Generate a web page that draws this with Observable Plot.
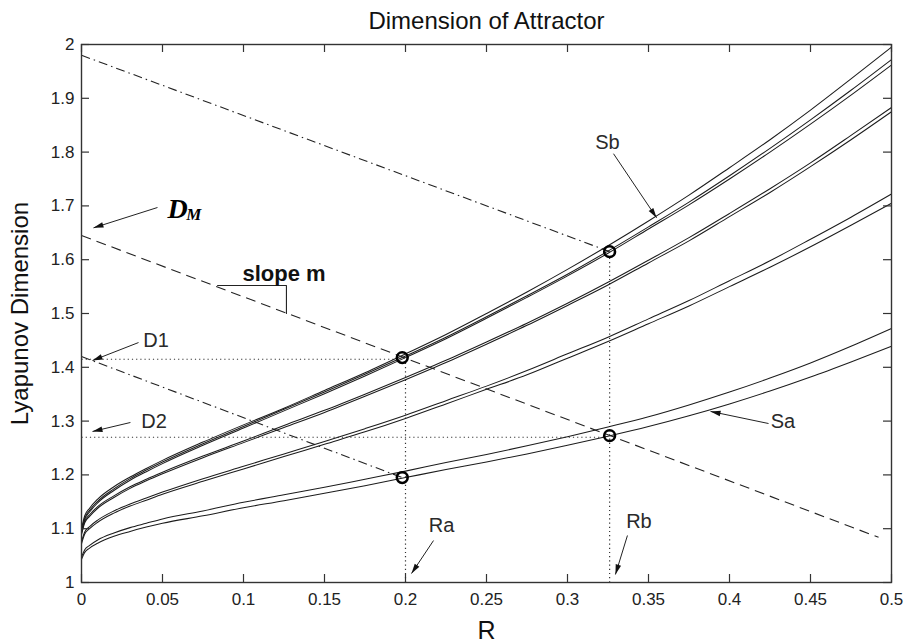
<!DOCTYPE html>
<html>
<head>
<meta charset="utf-8">
<script src="https://cdn.jsdelivr.net/npm/d3@7"></script>
<script src="https://cdn.jsdelivr.net/npm/@observablehq/plot@0.6"></script>
<style>
  html, body { margin: 0; padding: 0; background: #fff; }
  #chart svg { display: block; }
</style>
</head>
<body>
<div id="chart"></div>
<script>
// ---------- data ----------
const R = [0, 0.002, 0.005, 0.01, 0.02, 0.03, 0.04, 0.05, 0.075, 0.1, 0.125, 0.15, 0.175, 0.2,
           0.225, 0.25, 0.275, 0.3, 0.325, 0.35, 0.375, 0.4, 0.425, 0.45, 0.475, 0.5];

// upper group (Sb)
const dimSb1 = [1.100, 1.124, 1.138, 1.155, 1.178, 1.196, 1.212, 1.227, 1.261, 1.293, 1.324, 1.357, 1.390, 1.425,
                1.461, 1.500, 1.540, 1.582, 1.626, 1.672, 1.720, 1.771, 1.823, 1.878, 1.936, 1.995];
const dimSb2 = [1.095, 1.120, 1.134, 1.151, 1.174, 1.193, 1.209, 1.224, 1.258, 1.290, 1.322, 1.354, 1.387, 1.421,
                1.456, 1.494, 1.533, 1.573, 1.616, 1.661, 1.707, 1.756, 1.807, 1.860, 1.915, 1.972];
const dimSb3 = [1.092, 1.117, 1.131, 1.148, 1.171, 1.190, 1.206, 1.221, 1.255, 1.287, 1.319, 1.351, 1.384, 1.418,
                1.453, 1.491, 1.530, 1.570, 1.612, 1.657, 1.702, 1.750, 1.800, 1.852, 1.906, 1.962];
// second group
const dimB1 = [1.092, 1.114, 1.126, 1.141, 1.161, 1.178, 1.192, 1.205, 1.235, 1.263, 1.292, 1.320, 1.350, 1.381,
               1.413, 1.447, 1.482, 1.519, 1.558, 1.599, 1.641, 1.686, 1.732, 1.780, 1.831, 1.883];
const dimB2 = [1.089, 1.111, 1.123, 1.138, 1.158, 1.175, 1.189, 1.202, 1.232, 1.260, 1.288, 1.316, 1.346, 1.377,
               1.409, 1.443, 1.478, 1.515, 1.553, 1.594, 1.635, 1.680, 1.725, 1.773, 1.823, 1.875];
// third group
const dimC1 = [1.076, 1.094, 1.104, 1.116, 1.133, 1.146, 1.157, 1.168, 1.193, 1.216, 1.239, 1.262, 1.286, 1.311,
               1.338, 1.365, 1.394, 1.425, 1.456, 1.490, 1.524, 1.561, 1.598, 1.638, 1.679, 1.722];
const dimC2 = [1.072, 1.090, 1.100, 1.112, 1.129, 1.142, 1.153, 1.164, 1.188, 1.211, 1.234, 1.257, 1.280, 1.305,
               1.332, 1.359, 1.386, 1.417, 1.448, 1.481, 1.514, 1.550, 1.586, 1.624, 1.664, 1.705];
// lower group (Sa)
const dimSa1 = [1.047, 1.061, 1.069, 1.079, 1.092, 1.102, 1.110, 1.118, 1.133, 1.149, 1.163, 1.177, 1.192, 1.207,
                1.223, 1.238, 1.254, 1.271, 1.289, 1.308, 1.330, 1.354, 1.380, 1.408, 1.439, 1.472];
const dimSa2 = [1.043, 1.056, 1.064, 1.073, 1.086, 1.095, 1.103, 1.110, 1.124, 1.139, 1.152, 1.166, 1.180, 1.195,
                1.210, 1.224, 1.239, 1.255, 1.272, 1.290, 1.310, 1.332, 1.356, 1.382, 1.410, 1.439];

// marked operating points
const pointR = [0.198, 0.198, 0.326, 0.326];
const pointD = [1.418, 1.195, 1.615, 1.273];

// construction lines
const dashDotR1 = [0, 0],       dashDotD1 = [1.98, 1.42];
const dashDotR2 = [0.326, 0.198], dashDotD2 = [1.615, 1.195];
const dashedR1 = [0], dashedD1 = [1.645];
const dashedR2 = [0.492], dashedD2 = [1.084];
const dottedR1 = [0, 0, 0.2, 0.326],     dottedD1 = [1.415, 1.27, 1.0, 1.0];
const dottedR2 = [0.195, 0.322, 0.2, 0.326], dottedD2 = [1.415, 1.27, 1.41, 1.605];
const slopeR = [0.084, 0.1265, 0.1265];
const slopeD = [1.552, 1.552, 1.50];

// annotation labels
const labelText = ["Sb", "Sa", "D1", "D2", "Ra", "Rb"];
const labelR = [0.3247, 0.433, 0.046, 0.0448, 0.2222, 0.3441];
const labelD = [1.817, 1.2993, 1.4489, 1.2993, 1.105, 1.1125];
const slopeLabel = "slope m", slopeLabelR = 0.125, slopeLabelD = 1.5743;
const dmMain = "D", dmSub = "M";
const dmR = [0.0593, 0.0694], dmD = [1.695, 1.683];

// annotation arrows (tail -> tip)
const arrowFromR = [0.0469, 0.0352, 0.0302, 0.2173, 0.337, 0.4241, 0.3284];
const arrowFromD = [1.697, 1.446, 1.2974, 1.078, 1.0874, 1.2955, 1.797];
const arrowToR   = [0.0074, 0.0068, 0.0068, 0.2037, 0.3296, 0.3883, 0.355];
const arrowToD   = [1.6592, 1.4126, 1.2807, 1.0167, 1.0149, 1.318, 1.678];

const xTicks = [0, 0.05, 0.1, 0.15, 0.2, 0.25, 0.3, 0.35, 0.4, 0.45, 0.5];
const yTicks = [1, 1.1, 1.2, 1.3, 1.4, 1.5, 1.6, 1.7, 1.8, 1.9, 2];

const titleText = "Dimension of Attractor";
const xLabel = "R";
const yLabel = "Lyapunov Dimension";

// ---------- build ----------
const W = 904, H = 643;
const M = {top: 44, right: 13, bottom: 61, left: 81};
const xDomain = [0, 0.5], yDomain = [1, 2];
const kx = (W - M.left - M.right) / (xDomain[1] - xDomain[0]);
const ky = (H - M.top - M.bottom) / (yDomain[1] - yDomain[0]);
const plotW = W - M.left - M.right, plotH = H - M.top - M.bottom;

const series = [
  ["Sb1", dimSb1], ["Sb2", dimSb2], ["Sb3", dimSb3],
  ["B1", dimB1], ["B2", dimB2], ["C1", dimC1], ["C2", dimC2],
  ["Sa1", dimSa1], ["Sa2", dimSa2]
];
const curveRows = series.flatMap(([id, vals]) => R.map((r, i) => ({R: r, D: vals[i], id})));
const points = pointR.map((r, i) => ({R: r, D: pointD[i]}));
const seg = (r1, d1, r2, d2) => r1.map((r, i) => ({x1: r, y1: d1[i], x2: r2[i], y2: d2[i]}));
const dashDot = seg(dashDotR1, dashDotD1, dashDotR2, dashDotD2);
const dashed = seg(dashedR1, dashedD1, dashedR2, dashedD2);
const dotted = seg(dottedR1, dottedD1, dottedR2, dottedD2);
const slopeRows = slopeR.map((r, i) => ({R: r, D: slopeD[i]}));
const labels = labelText.map((t, i) => ({t, R: labelR[i], D: labelD[i]}));
const arrows = arrowFromR.map((r, i) => {
  const dxp = (arrowToR[i] - r) * kx;
  const dyp = -(arrowToD[i] - arrowFromD[i]) * ky;
  return {x1: r, y1: arrowFromD[i], x2: arrowToR[i], y2: arrowToD[i],
          angle: Math.atan2(dxp, -dyp) * 180 / Math.PI};
});

// narrow filled arrowhead, tip at origin, pointing up
const arrowHead = {
  draw(ctx) {
    ctx.moveTo(0, 0);
    ctx.lineTo(-2.8, 10);
    ctx.lineTo(2.8, 10);
    ctx.closePath();
  }
};

const fmt = d => String(+d.toFixed(2));
const ink = "#1c1c1c";
const sans = "'Liberation Sans', Arial, Helvetica, sans-serif";

const chart = Plot.plot({
  width: W, height: H,
  marginTop: M.top, marginRight: M.right, marginBottom: M.bottom, marginLeft: M.left,
  x: {domain: xDomain},
  y: {domain: yDomain},
  style: {fontFamily: sans, fontSize: "17px", color: "#222", background: "#fff"},
  marks: [
    // construction lines
    Plot.link(dotted, {x1: "x1", y1: "y1", x2: "x2", y2: "y2", stroke: "#333", strokeWidth: 1.2, strokeDasharray: "1.2,3"}),
    Plot.link(dashDot, {x1: "x1", y1: "y1", x2: "x2", y2: "y2", stroke: "#222", strokeWidth: 1.1, strokeDasharray: "9,4,1.5,4"}),
    Plot.link(dashed, {x1: "x1", y1: "y1", x2: "x2", y2: "y2", stroke: "#222", strokeWidth: 1.1, strokeDasharray: "10,6"}),
    Plot.line(slopeRows, {x: "R", y: "D", stroke: "#222", strokeWidth: 1.1}),
    // curves
    Plot.line(curveRows, {x: "R", y: "D", z: "id", stroke: ink, strokeWidth: 1.05, curve: "monotone-x"}),
    // operating points
    Plot.dot(points, {x: "R", y: "D", r: 5.4, stroke: "#000", strokeWidth: 2.6, fill: "none"}),
    // inner ticks on all four sides
    Plot.tickX(xTicks, {x: d => d, stroke: "#333", strokeWidth: 1.2, insetTop: plotH - 8}),
    Plot.tickX(xTicks, {x: d => d, stroke: "#333", strokeWidth: 1.2, insetBottom: plotH - 8}),
    Plot.tickY(yTicks, {y: d => d, stroke: "#333", strokeWidth: 1.2, insetRight: plotW - 8}),
    Plot.tickY(yTicks, {y: d => d, stroke: "#333", strokeWidth: 1.2, insetLeft: plotW - 8}),
    Plot.frame({stroke: "#333", strokeWidth: 1.4}),
    // tick labels
    Plot.axisX({ticks: xTicks, tickSize: 0, tickPadding: 10, tickFormat: fmt, label: null, fontSize: 17}),
    Plot.axisY({ticks: yTicks, tickSize: 0, tickPadding: 7, tickFormat: fmt, label: null, fontSize: 17}),
    // annotation arrows
    Plot.link(arrows, {x1: "x1", y1: "y1", x2: "x2", y2: "y2", stroke: "#222", strokeWidth: 1}),
    Plot.dot(arrows, {x: "x2", y: "y2", rotate: "angle", symbol: arrowHead, fill: "#111", stroke: "none"}),
    // annotation labels
    Plot.text(labels, {x: "R", y: "D", text: "t", fontSize: 20, fill: "#2a2a2a", lineAnchor: "middle"}),
    Plot.text([slopeLabel], {x: () => slopeLabelR, y: () => slopeLabelD, fontSize: 22, fontWeight: "bold", fill: "#111", lineAnchor: "middle"}),
    Plot.text([dmMain], {x: () => dmR[0], y: () => dmD[0], fontSize: 28, fontWeight: "bold", fontStyle: "italic",
      fontFamily: "'Liberation Serif', 'Times New Roman', serif", fill: "#000", lineAnchor: "middle"}),
    Plot.text([dmSub], {x: () => dmR[1], y: () => dmD[1], fontSize: 17, fontWeight: "bold", fontStyle: "italic",
      fontFamily: "'Liberation Serif', 'Times New Roman', serif", fill: "#000", lineAnchor: "middle"}),
    // title and axis labels
    Plot.text([titleText], {frameAnchor: "top", dy: -16, lineAnchor: "bottom", textAnchor: "middle", fontSize: 24, fill: "#111"}),
    Plot.text([xLabel], {frameAnchor: "bottom", dy: 56, lineAnchor: "bottom", textAnchor: "middle", fontSize: 25, fill: "#111"}),
    Plot.text([yLabel], {frameAnchor: "left", dx: -54, rotate: -90, lineAnchor: "bottom", textAnchor: "middle", fontSize: 24, fill: "#111"})
  ]
});
document.getElementById("chart").appendChild(chart);
</script>
</body>
</html>
